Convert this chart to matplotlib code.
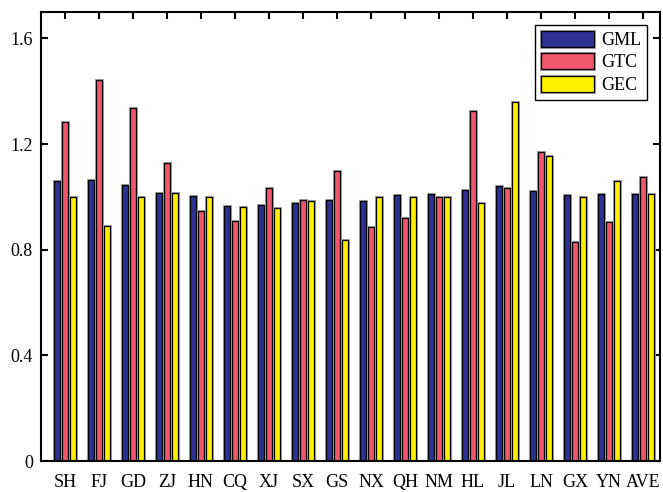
import numpy as np
import matplotlib
matplotlib.use("Agg")
import matplotlib.pyplot as plt
import matplotlib.patheffects as pe

plt.rcParams['font.family'] = ['Liberation Serif', 'DejaVu Serif']

regions = ["SH", "FJ", "GD", "ZJ", "HN", "CQ", "XJ", "SX", "GS", "NX",
           "QH", "NM", "HL", "JL", "LN", "GX", "YN", "AVE"]
gml = [1.059, 1.065, 1.044, 1.016, 1.003, 0.967, 0.971, 0.978, 0.988, 0.986,
       1.006, 1.010, 1.027, 1.040, 1.021, 1.006, 1.011, 1.012]
gtc = [1.285, 1.441, 1.336, 1.127, 0.947, 0.908, 1.034, 0.988, 1.098, 0.886,
       0.921, 1.000, 1.327, 1.035, 1.170, 0.831, 0.904, 1.074]
gec = [1.000, 0.890, 1.000, 1.015, 1.000, 0.962, 0.958, 0.986, 0.837, 1.000,
       1.000, 1.000, 0.978, 1.359, 1.154, 1.000, 1.062, 1.012]

colors = ["#2e3192", "#f0566e", "#fff000"]
series = [("GML", gml), ("GTC", gtc), ("GEC", gec)]

fig = plt.figure(figsize=(6.63, 4.92), dpi=100)
ax = fig.add_axes([0.062, 0.063, 0.9335, 0.9126])
ax.set_axisbelow(True)

x = np.arange(len(regions))
w = 0.18
step = 0.227
shadow = [pe.Stroke(linewidth=2.2, foreground="0.65"), pe.Normal()]
for i, (name, vals) in enumerate(series):
    bars = ax.bar(x + (i - 1) * step, vals, width=w, color=colors[i],
                  edgecolor="black", linewidth=0.9, label=name)
    for b in bars:
        b.set_path_effects(shadow)

ax.set_xlim(-0.7, 17.5)
ax.set_ylim(0, 1.7)
ax.set_yticks([0, 0.4, 0.8, 1.2, 1.6])
ax.set_yticklabels(["0", "0.4", "0.8", "1.2", "1.6"])
ax.set_xticks(x)
ax.set_xticklabels(regions)

for s in ax.spines.values():
    s.set_linewidth(1.5)
    s.set_zorder(3)
ax.tick_params(direction="in", length=5, width=1.5, top=True, right=True,
               labelsize=13)
ax.tick_params(axis="x", pad=9)
ax.tick_params(axis="y", pad=6)

leg = ax.legend(loc="upper right", fontsize=13, fancybox=False,
                edgecolor="black", framealpha=1, handlelength=2.9,
                handleheight=0.95, labelspacing=0.25, handletextpad=0.4,
                borderpad=0.35, borderaxespad=0.7)
leg.get_frame().set_linewidth(1.0)

fig.savefig("out.png", dpi=100)
